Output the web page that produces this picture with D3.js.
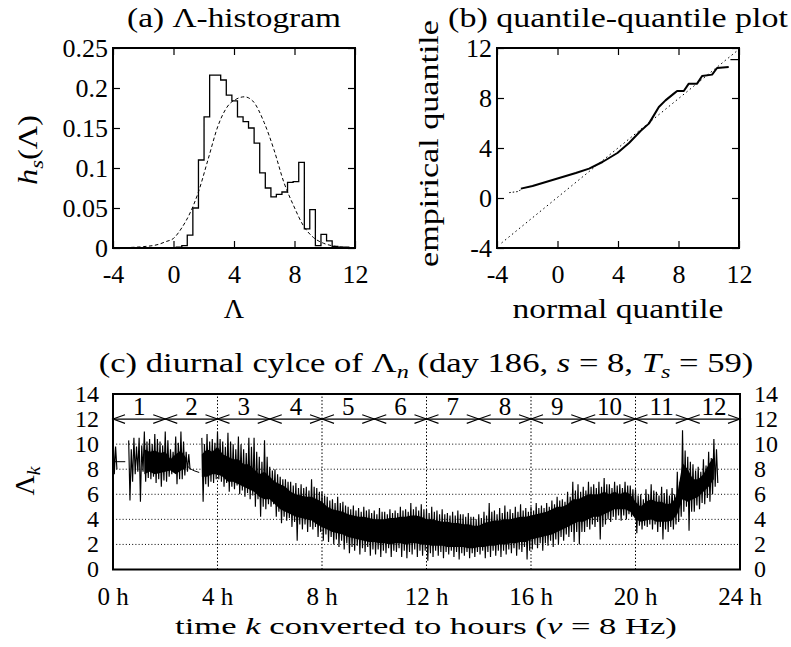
<!DOCTYPE html>
<html><head><meta charset="utf-8">
<script src="https://cdn.jsdelivr.net/npm/d3@7/dist/d3.min.js"></script>
<style>
body{margin:0;background:#fff}
text{font-family:"Liberation Serif","Times New Roman",serif;fill:#000}
</style>
</head><body>
<svg id="chart" width="791" height="647"></svg>
<script>
// ---------------- DATA ----------------
// (a) histogram of Lambda: bin edges and heights
const histEdges = [0.18,0.55,0.91,1.28,1.65,2.02,2.39,2.75,3.12,3.49,3.86,4.23,4.60,4.96,5.33,5.70,6.07,6.44,6.80,7.17,7.54,7.91,8.28,8.65,9.01,9.38,9.75,10.12,10.49,10.86,11.22,11.59];
const histHeights = [0.001,0.003,0.016,0.05,0.11,0.164,0.216,0.216,0.21,0.191,0.184,0.164,0.158,0.15,0.131,0.094,0.075,0.064,0.067,0.07,0.082,0.083,0.107,0.024,0.048,0.003,0.017,0.009,0.002,0.001,0.001];
// (a) fitted normal curve (dashed)
const fitX = [-4,-3,-2,-1,-0.5,0,0.54,1.1,1.63,2.29,2.94,3.59,4.14,4.68,5.23,5.99,6.64,7.3,7.95,8.6,9.26,9.91,10.57,11.33,12];
const fitY = [0.0002,0.0006,0.0017,0.0045,0.008,0.012,0.025,0.044,0.069,0.111,0.1525,0.1775,0.186,0.189,0.184,0.157,0.123,0.082,0.0525,0.0275,0.013,0.006,0.0025,0.0008,0.0003];
// (b) quantile-quantile plot
const qqLowNormal = [-3.19,-2.53,-2.42];
const qqLowEmp    = [0.43,0.53,0.75];
const qqNormal = [-2.42,-1.65,-0.99,0.11,1.21,2.09,2.97,3.96,4.73,5.49,6.04,6.37,6.7,7.14,7.69,7.91,8.35,8.68,9.23,9.56,10.22,10.55,11.32];
const qqEmp    = [0.75,0.96,1.2,1.6,2.0,2.35,2.88,3.6,4.4,5.36,5.95,6.61,7.28,7.81,8.35,8.56,8.56,9.15,9.15,9.76,9.87,10.4,10.48];
const qqHighNormal = [11.43,12.0];
const qqHighEmp    = [11.07,11.07];
const refLineX = [-3.7,12];
const refLineY = [-3.6,11.9];
// (c) diurnal cycle: sampling hours, outer extremes, secondary spikes and dense core band
const hours = [0,0.2,0.4,0.6,0.8,1,1.2,1.4,1.6,1.8,2,2.2,2.4,2.6,2.8,3,3.2,3.4,3.6,3.8,4,4.2,4.4,4.6,4.8,5,5.2,5.4,5.6,5.8,6,6.2,6.4,6.6,6.8,7,7.2,7.4,7.6,7.8,8,8.2,8.4,8.6,8.8,9,9.2,9.4,9.6,9.8,10,10.2,10.4,10.6,10.8,11,11.2,11.4,11.6,11.8,12,12.2,12.4,12.6,12.8,13,13.2,13.4,13.6,13.8,14,14.2,14.4,14.6,14.8,15,15.2,15.4,15.6,15.8,16,16.2,16.4,16.6,16.8,17,17.2,17.4,17.6,17.8,18,18.2,18.4,18.6,18.8,19,19.2,19.4,19.6,19.8,20,20.2,20.4,20.6,20.8,21,21.2,21.4,21.6,21.8,22,22.2,22.4,22.6,22.8,23];
const lamHi = [11.1,null,null,10.3,10.5,10.5,11.0,10.4,10.8,10.2,11.0,9.6,10.6,11.0,9.4,null,null,10.5,10.8,10.4,11.0,10.2,10.9,10.0,10.6,9.6,10.5,10.5,9.0,10.3,8.2,8.0,7.4,7.2,7.0,6.9,6.8,6.6,7.2,6.5,6.2,5.8,5.6,5.8,5.4,5.0,5.1,4.9,5.0,4.8,4.7,4.9,4.6,4.8,4.7,5.0,4.8,5.3,5.0,5.2,4.8,5.0,4.7,4.8,4.5,4.6,4.7,4.4,4.5,4.2,4.4,4.6,5.3,4.7,4.9,5.1,4.8,5.0,5.2,4.9,5.0,5.3,5.1,5.3,5.5,5.8,5.6,6.2,7.0,6.8,6.6,7.0,6.8,7.0,7.3,6.8,7.0,6.8,7.0,6.7,6.4,6.0,6.4,6.8,6.2,6.6,6.4,6.5,7.8,11.1,9.0,8.4,8.2,8.8,9.4,10.4];
const lamLo = [7.6,null,null,5.5,7.6,5.4,7.0,7.2,6.9,6.6,7.0,7.6,6.8,7.2,7.8,null,null,5.4,6.6,6.9,7.2,6.6,6.2,6.4,6.0,5.8,5.6,5.0,4.2,4.8,5.0,4.2,3.7,3.9,3.4,2.3,3.2,3.0,3.2,2.6,2.3,2.2,2.0,1.8,1.6,1.3,1.5,1.2,1.4,1.1,1.2,1.0,1.3,1.0,1.4,1.0,0.9,1.2,1.0,1.1,0.7,1.0,1.1,0.9,1.2,1.0,0.8,1.1,0.9,1.0,1.2,0.9,1.0,1.1,1.0,1.2,1.3,1.1,1.4,0.8,1.6,1.7,1.5,1.9,1.8,2.0,2.3,2.6,2.2,2.0,3.0,3.2,3.4,2.4,3.6,3.8,4.0,3.9,4.0,4.2,2.9,3.2,3.4,3.2,3.0,2.4,3.0,3.2,3.8,4.6,3.1,4.6,4.8,5.2,5.4,6.6];
const lamHi2 = [9.8,null,null,9.6,9.8,9.9,10.2,10.0,10.4,9.9,10.3,9.4,10.1,10.2,9.2,null,null,10.0,10.2,10.1,10.4,9.8,10.2,9.6,10.0,9.3,9.8,9.4,8.6,9.0,7.9,7.6,7.2,7.0,6.7,6.5,6.5,6.3,6.6,6.2,5.9,5.5,5.3,5.3,5.1,4.8,4.7,4.6,4.7,4.5,4.4,4.6,4.4,4.5,4.5,4.7,4.6,4.8,4.7,4.8,4.5,4.6,4.4,4.4,4.3,4.3,4.4,4.2,4.2,4.0,4.1,4.3,4.6,4.4,4.5,4.6,4.5,4.6,4.7,4.6,4.7,4.9,4.9,5.0,5.2,5.5,5.4,5.8,6.3,6.2,6.3,6.6,6.5,6.6,6.8,6.5,6.7,6.5,6.7,6.4,5.9,5.6,6.0,6.3,5.9,6.1,5.9,6.0,7.0,9.5,8.6,7.9,7.8,8.3,8.9,9.6];
const lamLo2 = [8.0,null,null,7.0,7.8,7.8,7.3,7.4,7.2,7.1,7.4,7.8,7.2,7.5,8.0,null,null,6.8,7.0,7.2,7.0,6.9,6.6,6.7,6.3,6.1,5.9,5.6,5.0,5.2,5.2,4.6,4.2,4.1,3.8,3.6,3.6,3.4,3.4,3.0,2.8,2.6,2.4,2.3,2.1,1.8,1.9,1.7,1.8,1.6,1.6,1.5,1.7,1.5,1.7,1.5,1.4,1.6,1.5,1.5,1.3,1.5,1.4,1.4,1.5,1.4,1.3,1.4,1.3,1.4,1.5,1.4,1.5,1.5,1.5,1.6,1.7,1.6,1.8,1.5,2.0,2.1,2.1,2.3,2.4,2.6,2.8,3.0,3.0,3.0,3.4,3.6,3.8,3.4,4.0,4.2,4.3,4.3,4.4,4.3,3.5,3.5,3.6,3.6,3.4,3.2,3.4,3.6,4.2,5.0,4.6,5.1,5.3,5.7,6.0,6.9];
const coreHi = [null,null,null,null,null,null,9.6,9.4,9.5,9.3,9.4,8.8,9.2,9.5,8.9,null,null,9.2,9.6,9.4,9.8,9.2,9.0,8.8,8.8,8.4,8.4,8.0,7.6,7.8,7.4,7.0,6.8,6.6,6.2,6.0,5.9,5.8,5.8,5.6,5.4,5.0,4.8,4.7,4.6,4.4,4.3,4.2,4.2,4.1,4.0,4.0,4.0,4.1,4.1,4.2,4.2,4.3,4.3,4.2,4.0,4.0,3.9,3.8,3.8,3.7,3.7,3.6,3.6,3.5,3.5,3.7,3.8,3.9,3.9,4.0,4.0,4.1,4.2,4.2,4.3,4.4,4.5,4.6,4.8,5.0,5.0,5.2,5.6,5.6,5.8,6.0,6.0,6.0,6.2,6.0,6.2,6.0,6.2,6.0,5.4,5.0,5.4,5.6,5.4,5.4,5.2,5.3,6.0,8.5,8.0,7.2,7.2,7.6,8.4,9.0];
const coreLo = [null,null,null,null,null,null,7.6,7.8,7.6,7.7,7.8,7.9,7.6,7.9,8.1,null,null,7.4,7.4,7.6,7.6,7.4,7.0,7.0,6.8,6.6,6.4,6.2,5.8,5.6,5.6,5.2,4.8,4.6,4.4,4.2,4.1,4.0,3.9,3.6,3.4,3.2,3.0,2.9,2.8,2.6,2.5,2.4,2.3,2.2,2.2,2.1,2.1,2.0,2.1,2.1,2.0,2.1,2.1,2.0,2.0,1.9,1.9,1.9,1.8,1.8,1.8,1.8,1.7,1.7,1.8,1.8,1.9,1.9,2.0,2.0,2.1,2.1,2.2,2.2,2.4,2.5,2.6,2.7,2.8,3.0,3.2,3.4,3.6,3.8,3.8,4.0,4.2,4.2,4.4,4.6,4.8,4.8,4.8,4.6,4.0,3.8,3.9,4.0,3.8,3.8,3.8,3.9,4.4,5.6,5.4,5.6,5.8,6.2,6.6,7.2];
// straight connecting lines across data gaps
const gapAHours = [0.05,0.47], gapAVals = [8.6,8.6];
const gapBHours = [2.83,2.95,3.1,3.3], gapBVals = [8.3,8.05,7.88,7.74];
// segments (2-hour blocks)
const segBounds = [0,2,4,6,8,10,12,14,16,18,20,22,24];
const segLabels = ["1","2","3","4","5","6","7","8","9","10","11","12"];
const segLevel = 12;
// ticks
const xTicksA = [-4,0,4,8,12], yTicksA = [0,0.05,0.1,0.15,0.2,0.25];
const yTickLabelsA = ["0","0.05","0.1","0.15","0.2","0.25"];
const xTicksB = [-4,0,4,8,12], yTicksB = [-4,0,4,8,12];
const xTicksC = [0,4,8,12,16,20,24], xTickLabelsC = ["0 h","4 h","8 h","12 h","16 h","20 h","24 h"];
const yTicksC = [0,2,4,6,8,10,12,14];
const gridYC = [2,4,6,8,10], gridXC = [4,8,12,16,20];

// ---------------- DRAW ----------------
const svg = d3.select("#chart");
const FS = 26;

function label(x, y, parts, opts={}) {
  const g = svg.append("g").attr("transform", `translate(${x},${y})` + (opts.rotate ? ` rotate(${opts.rotate})` : ""));
  const t = g.append("text").attr("text-anchor", opts.anchor || "middle").attr("font-size", opts.size || FS);
  parts.forEach(p => {
    const s = t.append("tspan").text(p.t);
    if (p.i) s.attr("font-style", "italic");
    if (p.sub) s.attr("font-size", (opts.size || FS) * 0.7).attr("dy", 6);
    if (p.up) s.attr("dy", -6);
  });
  if (opts.width) {
    const w = t.node().getComputedTextLength();
    t.attr("transform", `scale(${opts.width / w},1)`);
  }
  return t;
}

function box(x0, y0, x1, y1) {
  svg.append("rect").attr("x", x0).attr("y", y0).attr("width", x1 - x0).attr("height", y1 - y0)
    .attr("fill", "none").attr("stroke", "#000").attr("stroke-width", 2);
}

function framedAxes(xs, ys, xt, yt, ytl) {
  const [x0, x1] = xs.range(), [y0, y1] = ys.range();
  const fmtY = ytl ? (d, i) => ytl[i] : d => String(d);
  const ax = (gen, tr) => svg.append("g").attr("transform", tr).call(gen)
    .call(g => g.select(".domain").remove())
    .call(g => g.selectAll("line").attr("stroke-width", 1.2));
  const b = ax(d3.axisBottom(xs).tickValues(xt).tickSize(-7).tickFormat(d => String(d)).tickSizeOuter(0), `translate(0,${y0})`);
  b.selectAll("text").attr("y", 35).attr("dy", null).attr("font-size", FS);
  const l = ax(d3.axisLeft(ys).tickValues(yt).tickSize(-7).tickFormat(fmtY).tickSizeOuter(0), `translate(${x0},0)`);
  l.selectAll("text").attr("x", -5).attr("dy", "0.33em").attr("font-size", FS);
  ax(d3.axisTop(xs).tickValues(xt).tickSize(-7).tickFormat("").tickSizeOuter(0), `translate(0,${y1})`);
  ax(d3.axisRight(ys).tickValues(yt).tickSize(-7).tickFormat("").tickSizeOuter(0), `translate(${x1},0)`);
  svg.selectAll(".tick text").attr("fill", "#000");
  box(x0, y1, x1, y0);
}

// ---- Panel (a)
const xA = d3.scaleLinear().domain([-4, 12]).range([113, 355]);
const yA = d3.scaleLinear().domain([0, 0.25]).range([248, 48]);
{
  const pts = [[histEdges[0], 0]];
  histHeights.forEach((h, i) => { pts.push([histEdges[i], h]); pts.push([histEdges[i + 1], h]); });
  pts.push([histEdges[histEdges.length - 1], 0]);
  svg.append("path").attr("d", d3.line().x(d => xA(d[0])).y(d => yA(d[1]))(pts))
    .attr("fill", "none").attr("stroke", "#000").attr("stroke-width", 1.3);
  svg.append("path").attr("d", d3.line().curve(d3.curveMonotoneX).x(d => xA(d[0])).y(d => yA(d[1]))(fitX.map((x, i) => [x, fitY[i]])))
    .attr("fill", "none").attr("stroke", "#000").attr("stroke-width", 1).attr("stroke-dasharray", "3.5,2.5");
}
framedAxes(xA, yA, xTicksA, yTicksA, yTickLabelsA);
label(234, 27, [{t: "(a) Λ-histogram"}], {size: 28, width: 214});
label(234, 318, [{t: "Λ"}], {size: 28});
label(37, 150, [{t: "h", i: 1}, {t: "s", i: 1, sub: 1}, {t: "(Λ)", up: 1}], {size: 28, rotate: -90, width: 70});

// ---- Panel (b)
const xB = d3.scaleLinear().domain([-4, 12]).range([497, 739]);
const yB = d3.scaleLinear().domain([-4, 12]).range([248, 48]);
{
  const ln = d3.line().x(d => xB(d[0])).y(d => yB(d[1]));
  svg.append("path").attr("d", ln(refLineX.map((x, i) => [x, refLineY[i]])))
    .attr("fill", "none").attr("stroke", "#000").attr("stroke-width", 1).attr("stroke-dasharray", "1.5,3");
  svg.append("path").attr("d", ln(qqLowNormal.map((x, i) => [x, qqLowEmp[i]])))
    .attr("fill", "none").attr("stroke", "#000").attr("stroke-width", 1).attr("stroke-dasharray", "1.5,2");
  svg.append("path").attr("d", ln(qqNormal.map((x, i) => [x, qqEmp[i]])))
    .attr("fill", "none").attr("stroke", "#000").attr("stroke-width", 2).attr("stroke-linejoin", "round");
  svg.append("path").attr("d", ln(qqHighNormal.map((x, i) => [x, qqHighEmp[i]])))
    .attr("fill", "none").attr("stroke", "#000").attr("stroke-width", 1.2);
}
framedAxes(xB, yB, xTicksB, yTicksB);
label(618, 27, [{t: "(b) quantile-quantile plot"}], {size: 28, width: 340});
label(618, 318, [{t: "normal quantile"}], {size: 28, width: 211});
label(438, 143.5, [{t: "empirical quantile"}], {size: 28, rotate: -90, width: 247});

// ---- Panel (c)
const xC = d3.scaleLinear().domain([0, 24]).range([113, 740]);
const yC = d3.scaleLinear().domain([0, 14]).range([569.5, 394]);
// grid
svg.append("g").selectAll("line").data(gridYC).join("line")
  .attr("x1", xC(0)).attr("x2", xC(24)).attr("y1", d => yC(d)).attr("y2", d => yC(d))
  .attr("stroke", "#000").attr("stroke-width", 1).attr("stroke-dasharray", "1,2.2");
svg.append("g").selectAll("line").data(gridXC).join("line")
  .attr("x1", d => xC(d)).attr("x2", d => xC(d)).attr("y1", yC(0)).attr("y2", yC(14))
  .attr("stroke", "#000").attr("stroke-width", 1).attr("stroke-dasharray", "1.5,2");
// time series: dense core and spikes
{
  const area = d3.area().defined((d, i) => coreHi[i] != null)
    .x((d, i) => xC(hours[i])).y0((d, i) => yC(coreLo[i])).y1((d, i) => yC(coreHi[i]));
  svg.append("path").attr("d", area(hours)).attr("fill", "#000");
  const zig = [];
  hours.forEach((h, i) => {
    if (lamHi[i] == null) { zig.push(null); return; }
    zig.push([h, lamHi[i]]); zig.push([h + 0.05, lamLo[i]]);
    zig.push([h + 0.1, lamHi2[i]]); zig.push([h + 0.15, lamLo2[i]]);
  });
  const ln = d3.line().defined(d => d != null).x(d => xC(d[0])).y(d => yC(d[1]));
  svg.append("path").attr("d", ln(zig)).attr("fill", "none").attr("stroke", "#000").attr("stroke-width", 1.15);
  svg.append("path").attr("d", ln(gapAHours.map((h, i) => [h, gapAVals[i]]))).attr("fill", "none").attr("stroke", "#000").attr("stroke-width", 1);
  svg.append("path").attr("d", ln(gapBHours.map((h, i) => [h, gapBVals[i]]))).attr("fill", "none").attr("stroke", "#000").attr("stroke-width", 1);
}
// segment arrows
{
  const yl = yC(segLevel);
  svg.append("line").attr("x1", xC(0)).attr("x2", xC(24)).attr("y1", yl).attr("y2", yl).attr("stroke", "#000").attr("stroke-width", 1.3);
  const AL = 12, AW = 4.3;
  segLabels.forEach((lab, i) => {
    const a = xC(segBounds[i]), b = xC(segBounds[i + 1]);
    const p = `M${a + AL},${yl - AW}L${a},${yl}L${a + AL},${yl + AW}M${b - AL},${yl - AW}L${b},${yl}L${b - AL},${yl + AW}`;
    svg.append("path").attr("d", p).attr("fill", "none").attr("stroke", "#000").attr("stroke-width", 1.1);
    svg.append("text").attr("x", (a + b) / 2).attr("y", yl - 4).attr("text-anchor", "middle").attr("font-size", 25).text(lab);
  });
}
box(xC(0), yC(14), xC(24), yC(0));
svg.append("g").selectAll("text").data(yTicksC).join("text")
  .attr("x", xC(0) - 14).attr("y", d => yC(d)).attr("dy", "0.33em").attr("text-anchor", "end").attr("font-size", 24).text(d => d);
svg.append("g").selectAll("text").data(yTicksC).join("text")
  .attr("x", xC(24) + 14).attr("y", d => yC(d)).attr("dy", "0.33em").attr("text-anchor", "start").attr("font-size", 24).text(d => d);
svg.append("g").selectAll("text").data(xTicksC).join("text")
  .attr("x", d => xC(d)).attr("y", 605).attr("text-anchor", "middle").attr("font-size", 25).text((d, i) => xTickLabelsC[i]);
label(426, 372, [{t: "(c) diurnal cylce of Λ"}, {t: "n", i: 1, sub: 1}, {t: " (day 186, ", up: 1}, {t: "s", i: 1}, {t: " = 8, "}, {t: "T", i: 1}, {t: "s", i: 1, sub: 1}, {t: " = 59)", up: 1}], {size: 28, width: 655});
label(426, 634, [{t: "time "}, {t: "k", i: 1}, {t: " converted to hours ("}, {t: "ν", i: 1}, {t: " = 8 Hz)"}], {size: 24, width: 502});
label(34, 481, [{t: "Λ"}, {t: "k", i: 1, sub: 1}], {size: 28, rotate: -90});
</script>
</body></html>
